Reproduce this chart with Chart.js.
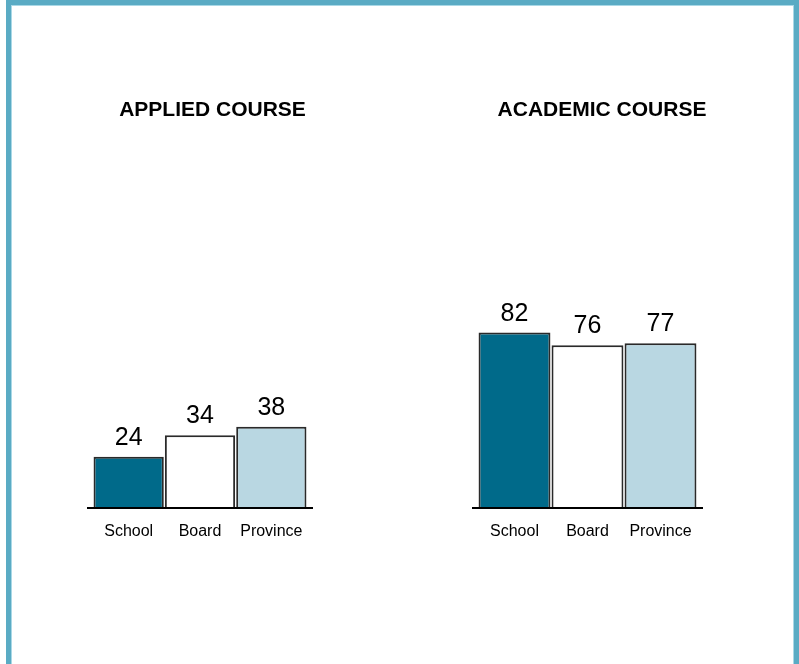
<!DOCTYPE html>
<html><head><meta charset="utf-8">
<script src="https://cdn.jsdelivr.net/npm/chart.js@4.4.1/dist/chart.umd.min.js"></script>
<style>
html,body{margin:0;padding:0;background:#fff;width:799px;height:664px;overflow:hidden;position:relative;font-family:"Liberation Sans",Arial,sans-serif;}
#frame{position:absolute;left:6px;top:0;width:793px;height:720px;box-sizing:border-box;border:5px solid #5aabc4;box-shadow:inset 0 0 0 1px #a9d8e6;}
.wrap{position:absolute;top:0;height:664px;}
</style></head><body>
<div id="frame"></div>
<div class="wrap" style="left:83px;width:259px"><canvas id="c1"></canvas></div>
<div class="wrap" style="left:468px;width:268px"><canvas id="c2"></canvas></div>
<script>
const categories = ['School', 'Board', 'Province'];
const appliedValues = [24, 34, 38];
const academicValues = [82, 76, 77];
const chartTitles = ['APPLIED COURSE', 'ACADEMIC COURSE'];
const barColors = ['#006a8a', '#ffffff', '#b9d7e2'];

const FONT = '"Liberation Sans", Arial, sans-serif';

const valueLabels = {
  id: 'valueLabels',
  afterDatasetsDraw(chart) {
    const ctx = chart.ctx;
    const meta = chart.getDatasetMeta(0);
    ctx.save();
    ctx.font = '25px ' + FONT;
    ctx.fillStyle = '#000';
    ctx.textAlign = 'center';
    ctx.textBaseline = 'alphabetic';
    meta.data.forEach((bar, i) => {
      ctx.fillText(String(chart.data.datasets[0].data[i]), bar.x, bar.y - 12);
    });
    ctx.restore();
  }
};

const baseline = {
  id: 'baseline',
  afterDatasetsDraw(chart) {
    const { ctx, chartArea, scales } = chart;
    const y = scales.y.getPixelForValue(0);
    ctx.save();
    ctx.strokeStyle = '#000';
    ctx.lineWidth = 2;
    ctx.beginPath();
    ctx.moveTo(chartArea.left - 6, y);
    ctx.lineTo(chartArea.right + 6, y);
    ctx.stroke();
    ctx.restore();
  }
};

function makeChart(id, title, values, extraRight) {
  return new Chart(document.getElementById(id), {
    type: 'bar',
    data: {
      labels: categories,
      datasets: [{
        data: values,
        backgroundColor: barColors,
        borderColor: '#2a2a2a',
        borderWidth: 2,
        categoryPercentage: 1,
        barPercentage: 0.985
      }]
    },
    options: {
      responsive: true,
      maintainAspectRatio: false,
      animation: false,
      devicePixelRatio: 1,
      layout: { padding: { left: 10, right: 10, top: 0, bottom: 116 } },
      plugins: {
        legend: { display: false },
        tooltip: { enabled: false },
        title: {
          display: true,
          text: title,
          color: '#000',
          font: { family: FONT, size: 21, weight: 'bold', lineHeight: 1.2 },
          padding: { top: 98, bottom: 170.8 }
        }
      },
      scales: {
        x: {
          grid: { display: false, drawTicks: false },
          border: { display: false },
          ticks: { color: '#000', font: { family: FONT, size: 16 }, padding: 14, maxRotation: 0, autoSkip: false },
          afterFit: s => { s.height = 40; }
        },
        y: {
          position: 'right',
          min: 0,
          max: 100,
          grid: { display: false, drawTicks: false },
          border: { display: false },
          ticks: { display: false },
          afterFit: s => { s.width = extraRight; }
        }
      }
    },
    plugins: [valueLabels, baseline]
  });
}

makeChart('c1', chartTitles[0], appliedValues, 25);
makeChart('c2', chartTitles[1], academicValues, 29);
</script>
</body></html>
